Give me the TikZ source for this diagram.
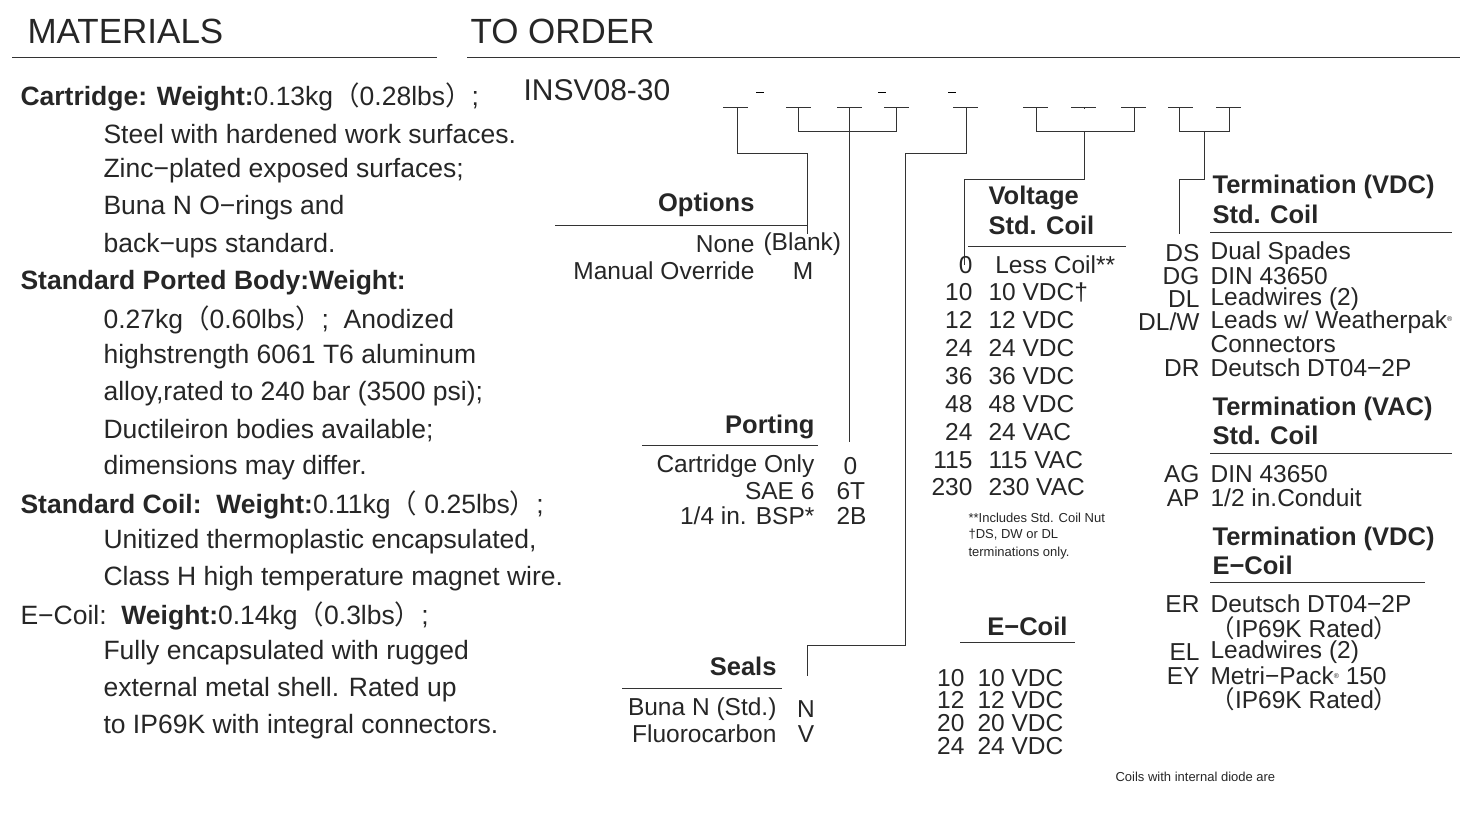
\documentclass[tikz,border=0pt]{standalone}
\usepackage{fontspec}
\setmainfont{Liberation Sans}
\newfontfamily\cjk{Noto Sans CJK SC}
\newcommand{\lpar}{{\cjk （}}
\newcommand{\rpar}{{\cjk ）}}
\begin{document}
\begin{tikzpicture}[x=1pt,y=-1pt,line width=1.1pt,
  every node/.style={inner sep=0pt,text=black!85},
  big/.style={font=\fontsize{35}{38}\selectfont,anchor=west},
  mb/.style={font=\fontsize{26.5}{30}\selectfont\bfseries,anchor=west},
  mt/.style={font=\fontsize{26.5}{30}\selectfont,anchor=west},
  hd/.style={font=\fontsize{25.5}{28}\selectfont\bfseries},
  tx/.style={font=\fontsize{24.5}{27}\selectfont},
  sm/.style={font=\fontsize{13}{15}\selectfont,anchor=west},
  ln/.style={line width=1pt,draw=black!80}]
\useasboundingbox (0,0) rectangle (1466,812);
% headers
\node[big] (hm) at (27,31) {MATERIALS};
\node[big] (ho) at (470,31) {TO ORDER};
\draw[ln] (12,57) -- (437,57);
\draw[ln] (467,57) -- (1460,57);
% materials
\node[mb] (m1) at (20,97) {Cartridge: Weight:\mdseries 0.13kg\lpar 0.28lbs\rpar;};
\node[mt] at (103,134) {Steel with hardened work surfaces.};
\node[mt] at (103,171) {Zinc−plated exposed surfaces;};
\node[mt] at (103,208) {Buna N O−rings and};
\node[mt] at (103,246) {back−ups standard.};
\node[mb] at (20,283) {Standard Ported Body:Weight:};
\node[mt] at (103,320) {0.27kg\lpar 0.60lbs\rpar;\ \ Anodized};
\node[mt] at (103,357) {highstrength 6061 T6 aluminum};
\node[mt] at (103,394) {alloy,rated to 240 bar (3500 psi);};
\node[mt] at (103,431) {Ductileiron bodies available;};
\node[mt] at (103,468) {dimensions may differ.};
\node[mb] at (20,505) {Standard Coil:\ \ Weight:\mdseries 0.11kg\lpar\ 0.25lbs\rpar;};
\node[mt] at (103,542) {Unitized thermoplastic encapsulated,};
\node[mt] at (103,579) {Class H high temperature magnet wire.};
\node[mb] at (20,616) {\mdseries E−Coil:\ \ \bfseries Weight:\mdseries 0.14kg\lpar 0.3lbs\rpar;};
\node[mt] at (103,653) {Fully encapsulated with rugged};
\node[mt] at (103,690) {external metal shell. Rated up};
\node[mt] at (103,727) {to IP69K with integral connectors.};
% part number
\node[big,font=\fontsize{30}{32}\selectfont] (pn) at (523,90) {INSV08-30};
\foreach \x in {760,882,952} \draw[line width=0.8pt] (\x-4,92)--(\x+4,92);
\foreach \a/\s in {723/737,786/798,837/849,884/896,953/966,1023/1036,1071/1084,1121/1134,1168/1179,1216/1229}
  {\draw[ln] (\a,107.5) -- (\a+25,107.5); \draw[ln] (\s,107.5) coordinate (t\s) -- (\s,109);}
% connectors
\coordinate (op) at (807,234);
\draw[ln] (t737) |- (807,153) -- (op);
\draw[ln] (t798) |- (896,131) -- (t896);
\coordinate (po) at (849,442);
\draw[ln] (t849) -- (po);
\coordinate (se) at (807,676);
\draw[ln] (t966) |- (905,153) |- (807,645) -- (se);
\draw[ln] (t1036) |- (1134,131) -- (t1134);
\coordinate (vo) at (964,265);
\draw[ln] (1084,131) |- (964,179) -- (vo);
\draw[ln] (t1179) |- (1229,131) -- (t1229);
\coordinate (te) at (1179,234);
\draw[ln] (1204,131) |- (1179,179) -- (te);
% Options
\node[hd,anchor=east] (oh) at (755,205) {Options};
\draw[ln] (555,225) -- (808,225);
\node[tx,anchor=east] at (755,244) {None};
\node[tx,anchor=west] at (763,244) {(Blank)};
\node[tx,anchor=east] at (755,271) {Manual Override};
\node[tx] at (803,271) {M};
% Porting
\node[hd,anchor=east] (ph) at (815,427) {Porting};
\draw[ln] (642,445) -- (818,445);
\node[tx,anchor=east] at (815,466) {Cartridge Only};
\node[tx,anchor=east] at (815,491) {SAE 6};
\node[tx,anchor=east] at (815,516) {1/4 in. BSP*};
\node[tx,anchor=west] at (843,466) {0};
\node[tx,anchor=west] at (836,491) {6T};
\node[tx,anchor=west] at (836,516) {2B};
% Seals
\node[hd,anchor=east] (sh) at (777,666) {Seals};
\draw[ln] (622,688) -- (782,688);
\node[tx,anchor=east] at (777,709) {Buna N (Std.)};
\node[tx,anchor=east] at (777,734) {Fluorocarbon};
\node[tx] at (806,709) {N};
\node[tx] at (806,734) {V};
% Voltage
\node[hd,anchor=west] (vh) at (988,198) {Voltage};
\node[hd,anchor=west] at (988,225) {Std. Coil};
\draw[ln] (968,246) -- (1126,246);
\foreach \c/\d/\y in {0/{\ Less Coil**}/265,10/{10 VDC†}/292,12/12 VDC/320,24/24 VDC/348,36/36 VDC/376,48/48 VDC/404,24/24 VAC/432,115/115 VAC/460,230/230 VAC/487}
  {\node[tx,anchor=east] at (973,\y) {\c}; \node[tx,anchor=west] at (988,\y) {\d};}
\node[sm] at (968,518) {**Includes Std. Coil Nut};
\node[sm] at (968,535) {†DS, DW or DL};
\node[sm] at (968,553) {terminations only.};
% E-Coil
\node[hd,anchor=east] (eh) at (1068,626) {E−Coil};
\draw[ln] (960,642) -- (1075,642);
\foreach \c/\y in {10/678,12/700,20/723,24/746}
  {\node[tx,anchor=east] at (965,\y) {\c}; \node[tx,anchor=west] at (977,\y) {\c\ VDC};}
% Termination
\node[hd,anchor=west] (th1) at (1212,187) {Termination (VDC)};
\node[hd,anchor=west] at (1212,214) {Std. Coil};
\draw[ln] (1210,232) -- (1452,232);
\foreach \c/\d/\y in {DS/Dual Spades/253,DG/DIN 43650/276,DL/Leadwires (2)/299,{DL/W}/{Leads w/ Weatherpak\raisebox{0.5ex}{\scriptsize®}}/322,{}/Connectors/344,DR/Deutsch DT04−2P/368}
  {\node[tx,anchor=east] at (1200,\y) {\c}; \node[tx,anchor=west] at (1210,\y) {\d};}
\node[hd,anchor=west] (th2) at (1212,409) {Termination (VAC)};
\node[hd,anchor=west] at (1212,435) {Std. Coil};
\draw[ln] (1210,453) -- (1452,453);
\foreach \c/\d/\y in {AG/DIN 43650/474,AP/{1/2 in.Conduit}/498}
  {\node[tx,anchor=east] at (1200,\y) {\c}; \node[tx,anchor=west] at (1210,\y) {\d};}
\node[hd,anchor=west] (th3) at (1212,539) {Termination (VDC)};
\node[hd,anchor=west] at (1212,565) {E−Coil};
\draw[ln] (1210,582) -- (1425,582);
\foreach \c/\d/\y in {ER/Deutsch DT04−2P/604,{}/{\lpar IP69K Rated\rpar}/628,EL/Leadwires (2)/652,EY/{Metri−Pack\raisebox{0.5ex}{\scriptsize®} 150}/676,{}/{\lpar IP69K Rated\rpar}/699}
  {\node[tx,anchor=east] at (1200,\y) {\c}; \node[tx,anchor=west] at (1210,\y) {\d};}
\node[sm] (nt) at (1115,777) {Coils with internal diode are};
\end{tikzpicture}
\end{document}
